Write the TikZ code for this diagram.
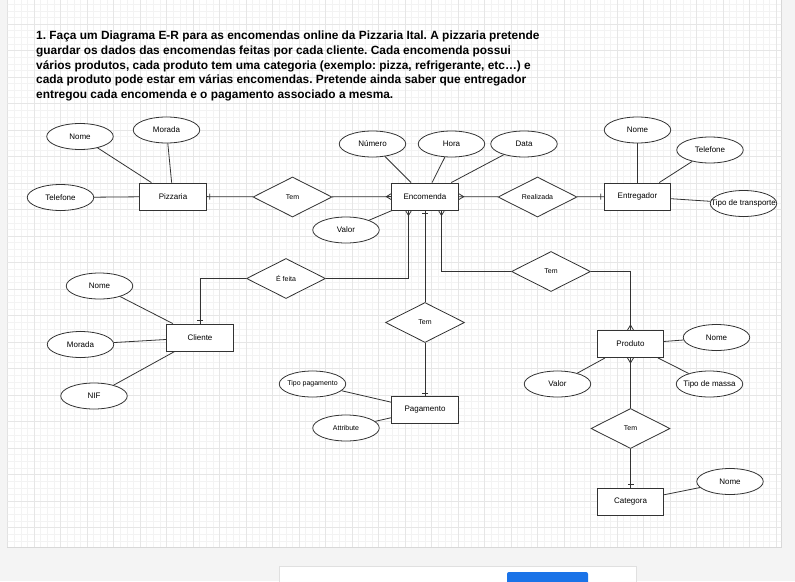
\documentclass[tikz,border=0pt]{standalone}
\usepackage{fontspec}
\setmainfont{Liberation Sans}
\usetikzlibrary{shapes.geometric}

% crow's foot ("many") end for ER connectors
\pgfdeclarearrow{
  name = ERmany,
  setup code = {
    \pgfarrowssettipend{0pt}
    \pgfarrowssetlineend{0pt}
    \pgfarrowssetbackend{-5pt}
    \pgfarrowshullpoint{0pt}{3pt}
    \pgfarrowshullpoint{0pt}{-3pt}
    \pgfarrowshullpoint{-5pt}{0pt}
  },
  drawing code = {
    \pgfsetdash{}{0pt}
    \pgfpathmoveto{\pgfqpoint{0pt}{3pt}}
    \pgfpathlineto{\pgfqpoint{-5pt}{0pt}}
    \pgfpathlineto{\pgfqpoint{0pt}{-3pt}}
    \pgfusepathqstroke
  }
}
% single bar ("one") end for ER connectors
\pgfdeclarearrow{
  name = ERone,
  setup code = {
    \pgfarrowssettipend{0pt}
    \pgfarrowssetlineend{0pt}
    \pgfarrowssetbackend{-3pt}
    \pgfarrowshullpoint{0pt}{3pt}
    \pgfarrowshullpoint{-3pt}{3pt}
    \pgfarrowshullpoint{-3pt}{-3pt}
  },
  drawing code = {
    \pgfsetdash{}{0pt}
    \pgfpathmoveto{\pgfqpoint{-3pt}{3pt}}
    \pgfpathlineto{\pgfqpoint{-3pt}{-3pt}}
    \pgfusepathqstroke
  }
}

% text that may spill past its ellipse without widening it
\newcommand{\fixw}[1]{\makebox[0pt][c]{#1}}

\definecolor{canvasbg}{HTML}{F4F4F4}
\definecolor{gridmajor}{HTML}{E6E6E6}
\definecolor{gridminor}{HTML}{F3F3F3}
\definecolor{pageedge}{HTML}{D8D8D8}
\definecolor{ink}{HTML}{333333}
\definecolor{btnblue}{HTML}{1A73E8}

\begin{document}
\frenchspacing
\begin{tikzpicture}[x=1pt,y=-1pt,
  entity/.style={draw=ink, line width=0.9pt, fill=white, minimum width=66.5pt,
    minimum height=27pt, inner sep=0pt, font=\fontsize{8}{9}\selectfont},
  attr/.style={ellipse, draw=ink, line width=0.8pt, fill=white, minimum width=66.5pt,
    minimum height=26pt, inner sep=0pt, font=\fontsize{8}{9}\selectfont},
  rel/.style={diamond, draw=ink, line width=0.8pt, fill=white, aspect=2,
    minimum width=79pt, minimum height=40pt, inner sep=0pt,
    font=\fontsize{7}{8}\selectfont},
  small/.style={font=\fontsize{7}{8}\selectfont},
  link/.style={draw=ink, line width=0.8pt},
  titleline/.style={anchor=base west, inner sep=0pt,
    font=\fontsize{11.9}{14}\selectfont\bfseries},
]
\useasboundingbox (0,0) rectangle (795,581);
\fill[canvasbg] (0,0) rectangle (795,581);

% drawing page with grid
\fill[pageedge] (6.5,0) rectangle (782,547.5);
\fill[white] (7.5,0) rectangle (781,546.5);
\begin{scope}
  \clip (7.5,0) rectangle (781,546.5);
  \foreach \i in {0,...,117} \draw[gridminor, line width=0.4pt] ({7.5+6.625*\i},0) -- ++(0,547);
  \foreach \i in {0,...,83} \draw[gridminor, line width=0.4pt] (0,{-2.5+6.625*\i}) -- ++(795,0);
  \foreach \i in {-1,...,28} \draw[gridmajor, line width=0.6pt] ({34+26.5*\i},0) -- ++(0,547);
  \foreach \i in {-1,...,20} \draw[gridmajor, line width=0.6pt] (0,{24+26.5*\i}) -- ++(795,0);
\end{scope}

% bottom notice bar
\fill[black!12] (279,566) rectangle (637,582);
\fill[white] (280,567) rectangle (636,582);
\fill[btnblue, rounded corners=2pt] (507,572) rectangle (588,586);

% statement text
\node[titleline] (t1) at (36,39.5) {1. Faça um Diagrama E-R para as encomendas online da Pizzaria Ital. A pizzaria pretende};
\node[titleline] (t2) at (36,54.25) {guardar os dados das encomendas feitas por cada cliente. Cada encomenda possui};
\node[titleline] (t3) at (36,69) {vários produtos, cada produto tem uma categoria (exemplo: pizza, refrigerante, etc…) e};
\node[titleline] (t4) at (36,83.75) {cada produto pode estar em várias encomendas. Pretende ainda saber que entregador};
\node[titleline] (t5) at (36,98.5) {entregou cada encomenda e o pagamento associado a mesma.};

% entities
\node[entity] (pizzaria)   at (173,196.5)   {Pizzaria};
\node[entity] (encomenda)  at (425,196.5)   {Encomenda};
\node[entity] (entregador) at (637.5,196.5) {Entregador};
\node[entity] (cliente)    at (200,337.5)   {Cliente};
\node[entity] (pagamento)  at (425,410)     {Pagamento};
\node[entity] (produto)    at (630.5,344)   {Produto};
\node[entity] (categora)   at (630.5,501.5) {Categora};

% relationships
\node[rel] (tem1)      at (292.5,197)   {Tem};
\node[rel] (realizada) at (537.5,197)   {Realizada};
\node[rel] (efeita)    at (286,278.5)   {É feita};
\node[rel] (tem2)      at (551,271.5)   {Tem};
\node[rel] (tem3)      at (425,322.5)   {Tem};
\node[rel] (tem4)      at (630.5,428.5) {Tem};

% attributes
\node[attr] (pnome)     at (80,136.5)    {Nome};
\node[attr] (pmorada)   at (166.5,130)   {Morada};
\node[attr] (ptelefone) at (60.5,197.5)  {Telefone};
\node[attr] (enumero)   at (372.5,144)   {Número};
\node[attr] (ehora)     at (451.5,144)   {Hora};
\node[attr] (edata)     at (524,144)     {Data};
\node[attr] (evalor)    at (346,230)     {Valor};
\node[attr] (tnome)     at (637.5,130)   {Nome};
\node[attr] (ttelefone) at (710,150)     {Telefone};
\node[attr] (ttransp)   at (743.5,203.5) {\fixw{Tipo de transporte}};
\node[attr] (cnome)     at (99.5,286)    {Nome};
\node[attr] (cmorada)   at (80.5,344.5)  {Morada};
\node[attr] (cnif)      at (94,396)      {NIF};
\node[attr, small] (gtipo) at (312.5,384) {\fixw{Tipo pagamento}};
\node[attr, small] (gattr) at (346,428)   {Attribute};
\node[attr] (rnome)     at (716.5,337.5) {Nome};
\node[attr] (rvalor)    at (557.5,384)   {Valor};
\node[attr] (rmassa)    at (709.5,384)   {\fixw{Tipo de massa}};
\node[attr] (knome)     at (730,481.5)   {Nome};

% attribute links
\draw[link] (pnome) -- (pizzaria);
\draw[link] (pmorada) -- (pizzaria);
\draw[link] (ptelefone) -- (pizzaria);
\draw[link] (enumero) -- (encomenda);
\draw[link] (ehora) -- (encomenda);
\draw[link] (edata) -- (encomenda);
\draw[link] (evalor) -- (encomenda);
\draw[link] (tnome) -- (entregador);
\draw[link] (ttelefone) -- (entregador);
\draw[link] (ttransp) -- (entregador);
\draw[link] (cnome) -- (cliente);
\draw[link] (cmorada) -- (cliente);
\draw[link] (cnif) -- (cliente);
\draw[link] (gtipo) -- (pagamento);
\draw[link] (gattr) -- (pagamento);
\draw[link] (rnome) -- (produto);
\draw[link] (rvalor) -- (produto);
\draw[link] (rmassa) -- (produto);
\draw[link] (knome) -- (categora);

% relationship links
\draw[link, -ERone]  (tem1) -- (pizzaria);
\draw[link, -ERmany] (tem1) -- (encomenda);
\draw[link, -ERmany] (realizada) -- (encomenda);
\draw[link, -ERone]  (realizada) -- (entregador);
\draw[link, -ERmany] (efeita.east) -| ([xshift=-16.5pt]encomenda.south);
\draw[link, -ERone]  (efeita.west) -| (cliente.north);
\draw[link, -ERmany] (tem2.west) -| ([xshift=16.5pt]encomenda.south);
\draw[link, -ERmany] (tem2.east) -| (produto.north);
\draw[link, -ERone]  (tem3) -- (encomenda);
\draw[link, -ERone]  (tem3) -- (pagamento);
\draw[link, -ERmany] (tem4) -- (produto);
\draw[link, -ERone]  (tem4) -- (categora);
\end{tikzpicture}
\end{document}
